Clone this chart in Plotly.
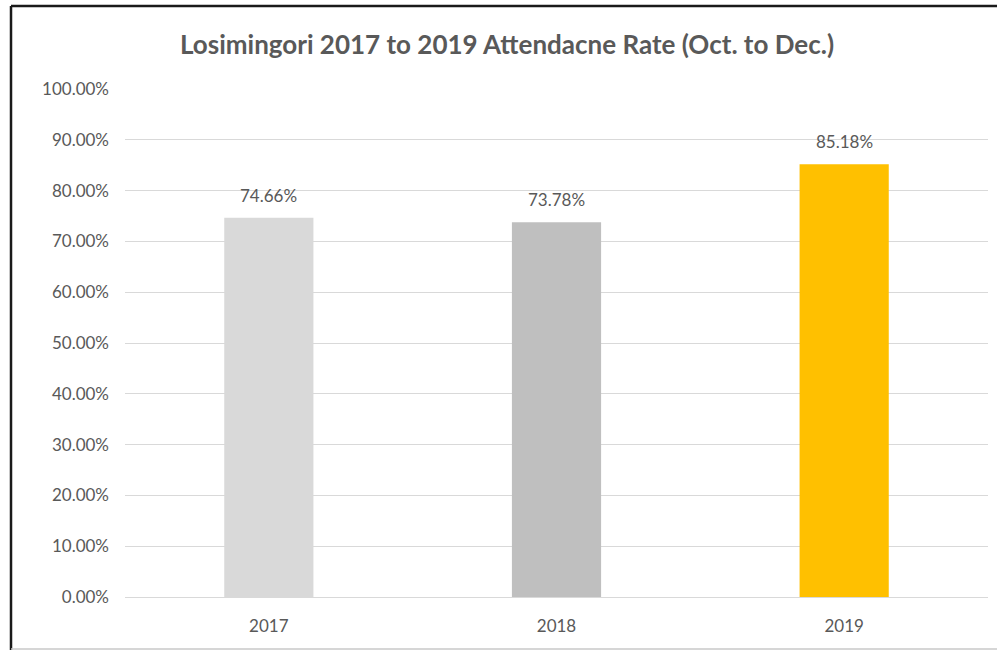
import plotly.graph_objects as go

years = ["2017", "2018", "2019"]
rates = [0.7466, 0.7378, 0.8518]
bar_colors = ["#D9D9D9", "#BFBFBF", "#FFC000"]
title_text = "Losimingori 2017 to 2019 Attendacne Rate (Oct. to Dec.)"

FONT = "Lato, Open Sans, sans-serif"
W, H = 997, 650
L, R, T, B = 125, 9, 89, 53

fig = go.Figure()
fig.add_trace(go.Bar(
    x=years, y=rates, marker=dict(color=bar_colors, line=dict(width=0)),
    width=0.31, hoverinfo="skip",
))

for i, v in enumerate(rates):
    fig.add_annotation(x=i, y=v, text=f"{v*100:.2f}%", showarrow=False,
                       yanchor="bottom", yshift=10,
                       font=dict(family=FONT, size=17, color="#595959"))

pw, ph = W - L - R, H - T - B
def px_x(p):
    return (p - L) / pw
def px_y(p):
    return (H - B - p) / ph

# frame: dark top and left edges, light bottom edge
fig.add_shape(type="line", xref="paper", yref="paper",
              x0=px_x(11), x1=px_x(1000), y0=px_y(6), y1=px_y(6),
              line=dict(color="#1a1a1a", width=2.5), layer="above")
fig.add_shape(type="line", xref="paper", yref="paper",
              x0=px_x(11), x1=px_x(11), y0=px_y(6), y1=px_y(655),
              line=dict(color="#1a1a1a", width=2.5), layer="above")
fig.add_shape(type="line", xref="paper", yref="paper",
              x0=px_x(11), x1=px_x(1000), y0=px_y(649), y1=px_y(649),
              line=dict(color="#C8C8C8", width=1.5), layer="above")

fig.update_layout(
    width=W, height=H,
    margin=dict(l=L, r=R, t=T, b=B),
    paper_bgcolor="white", plot_bgcolor="white",
    showlegend=False,
    title=dict(text=f"<b>{title_text}</b>", x=507 / W, xref="container",
               xanchor="center",
               y=1 - 45 / H, yref="container", yanchor="middle",
               font=dict(family=FONT, size=26, color="#595959")),
)
fig.update_yaxes(range=[0, 1], dtick=0.1, tickformat=".2%",
                 showgrid=True, gridcolor="#D9D9D9", gridwidth=1,
                 zeroline=True, zerolinecolor="#D9D9D9", zerolinewidth=1,
                 showline=False, ticks="", ticklabelstandoff=15,
                 tickfont=dict(family=FONT, size=17, color="#595959"))
fig.update_xaxes(type="category", range=[-0.5, 2.5], showgrid=False,
                 showline=False, ticks="", ticklabelstandoff=17,
                 tickfont=dict(family=FONT, size=17, color="#595959"))

fig.write_html("out.html", config={"displayModeBar": False},
               post_script="document.body.style.margin='0';document.body.style.overflow='hidden';")
